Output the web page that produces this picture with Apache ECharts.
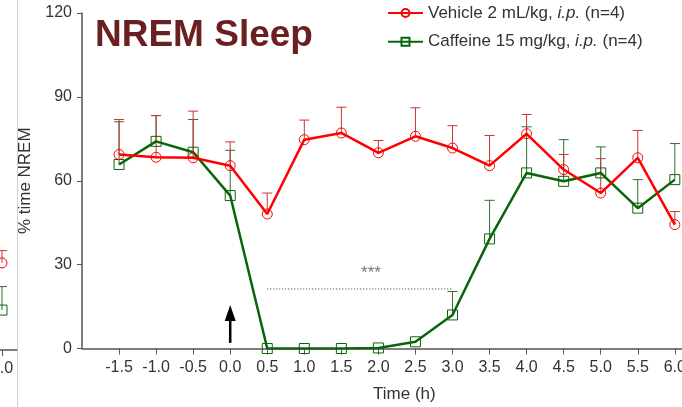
<!DOCTYPE html>
<html>
<head>
<meta charset="utf-8">
<script src="https://cdn.jsdelivr.net/npm/echarts@6/dist/echarts.min.js"></script>
<style>
html,body{margin:0;padding:0;background:#fff;}
#chart{width:682px;height:407px;}
</style>
</head>
<body>
<div id="chart"></div>
<script>
// ---- data ----
const time = [-1.5, -1.0, -0.5, 0.0, 0.5, 1.0, 1.5, 2.0, 2.5, 3.0, 3.5, 4.0, 4.5, 5.0, 5.5, 6.0];
const vehicleMean = [69.4, 68.4, 68.2, 65.4, 48.1, 74.7, 77.1, 70.0, 75.9, 71.7, 65.4, 76.8, 64.0, 55.6, 68.2, 44.3];
const vehicleErr  = [12.5, 14.9, 16.7, 8.5, 7.5, 7.0, 9.2, 4.4, 10.2, 8.0, 10.8, 6.9, 5.4, 12.3, 9.8, 4.7];
const caffeineMean = [65.8, 74.1, 70.2, 54.7, 0.0, 0.0, 0.0, 0.2, 2.4, 12.0, 39.2, 62.8, 59.8, 62.8, 50.2, 60.4];
const caffeineErr  = [15.3, 9.2, 11.7, 16.2, 0, 0, 0, 0, 0, 8.4, 13.8, 16.5, 14.9, 9.3, 10.2, 12.9];
const xTicks = [-1.5, -1.0, -0.5, 0.0, 0.5, 1.0, 1.5, 2.0, 2.5, 3.0, 3.5, 4.0, 4.5, 5.0, 5.5, 6.0];
const yTicks = [0, 30, 60, 90, 120];
const seriesNames = ['Vehicle 2 mL/kg, i.p. (n=4)', 'Caffeine 15 mg/kg, i.p. (n=4)'];
const titleText = 'NREM Sleep';
const xName = 'Time (h)';
const yName = '% time NREM';
// significance annotation
const sigStart = 0.5, sigEnd = 3.0, sigLevel = 21.3;
const sigLabelPos = [1.9, 27.0];
const sigLabel = '***';
// injection arrow (time, base value, tip value)
const arrowAt = [0.0, 2.0, 15.6];
// clipped neighbouring panel at left edge
const prevTime = [6.0];
const prevVehicle = [31.2];
const prevVehicleErr = [4.4];
const prevCaffeine = [14.3];
const prevCaffeineErr = [8.4];

// ---- styles ----
const RED = '#ff0000', RED_ERR = '#cc3333';
const GREEN = '#0a640a', GREEN_ERR = '#2f6f2f';
const FONT = 'Liberation Sans, Arial, sans-serif';
const AXIS = '#555';

function pairs(xs, ys) { return xs.map((x, i) => [x, ys[i]]); }
function triples(xs, ys, es) { return xs.map((x, i) => [x, ys[i], es[i]]); }

function errRenderer(color) {
  return function (params, api) {
    const x = api.value(0), m = api.value(1), e = api.value(2);
    if (!(e > 0)) return null;
    const p0 = api.coord([x, m]);
    const p1 = api.coord([x, m + e]);
    return {
      type: 'group',
      children: [
        { type: 'line', shape: { x1: p0[0], y1: p0[1], x2: p1[0], y2: p1[1] }, style: { stroke: color, lineWidth: 1 } },
        { type: 'line', shape: { x1: p1[0] - 5, y1: p1[1], x2: p1[0] + 5, y2: p1[1] }, style: { stroke: color, lineWidth: 1 } }
      ]
    };
  };
}

function arrowRenderer(params, api) {
  const x = api.value(0);
  const p0 = api.coord([x, api.value(1)]);
  const p1 = api.coord([x, api.value(2)]);
  return {
    type: 'group',
    children: [
      { type: 'line', shape: { x1: p0[0], y1: p0[1], x2: p1[0], y2: p1[1] + 12 }, style: { stroke: '#000', lineWidth: 2.5 } },
      { type: 'polygon', shape: { points: [[p1[0], p1[1]], [p1[0] - 5.5, p1[1] + 16], [p1[0] + 5.5, p1[1] + 16]] }, style: { fill: '#000' } }
    ]
  };
}

const chart = echarts.init(document.getElementById('chart'), null, { renderer: 'canvas' });

const option = {
  animation: false,
  backgroundColor: '#fff',
  textStyle: { fontFamily: FONT },
  title: {
    text: titleText,
    left: 95, top: 17, padding: 0,
    textStyle: { fontFamily: FONT, fontSize: 37, fontWeight: 'bold', color: '#6a2020' }
  },
  legend: {
    data: seriesNames,
    orient: 'vertical',
    left: 387, top: 3.5, padding: 0,
    itemWidth: 35, itemHeight: 10, itemGap: 9.7,
    formatter: name => name.replace('i.p.', '{i|i.p.}'),
    textStyle: {
      fontFamily: FONT, fontSize: 17, color: '#333', lineHeight: 19,
      rich: { i: { fontFamily: FONT, fontSize: 17, fontStyle: 'italic', color: '#333', lineHeight: 19 } }
    }
  },
  graphic: [
    { type: 'line', shape: { x1: 17.5, y1: 0, x2: 17.5, y2: 407 }, style: { stroke: '#d0d0d0', lineWidth: 1 }, z: 0 }
  ],
  grid: [
    { left: 82, width: 644.7, top: 13, height: 335.5, containLabel: false, outerBoundsMode: 'none' },
    { left: -590.8, width: 607.6, top: 15, height: 335, containLabel: false, outerBoundsMode: 'none' }
  ],
  xAxis: [
    {
      gridIndex: 0, type: 'value', min: -2, max: 6.7,
      name: xName, nameLocation: 'middle', nameGap: 37,
      nameTextStyle: { fontFamily: FONT, fontSize: 17, color: '#333' },
      axisLine: { show: true, onZero: false, lineStyle: { color: AXIS, width: 1.5 } },
      axisTick: { show: true, length: 6, customValues: xTicks, lineStyle: { color: AXIS } },
      axisLabel: { customValues: xTicks, formatter: v => v.toFixed(1), fontFamily: FONT, fontSize: 16, color: '#333', margin: 11 },
      splitLine: { show: false }
    },
    {
      gridIndex: 1, type: 'value', min: -2, max: 6.2,
      axisLine: { show: true, onZero: false, lineStyle: { color: AXIS, width: 1.5 } },
      axisTick: { show: true, length: 6, customValues: prevTime, lineStyle: { color: AXIS } },
      axisLabel: { customValues: prevTime, formatter: v => v.toFixed(1), fontFamily: FONT, fontSize: 16, color: '#333', margin: 11 },
      splitLine: { show: false }
    }
  ],
  yAxis: [
    {
      gridIndex: 0, type: 'value', min: 0, max: 120, interval: 30,
      name: yName, nameLocation: 'middle', nameGap: 48,
      nameTextStyle: { fontFamily: FONT, fontSize: 17, color: '#333' },
      axisLine: { show: true, onZero: false, lineStyle: { color: AXIS, width: 1.5 } },
      axisTick: { show: true, length: 5, lineStyle: { color: AXIS } },
      axisLabel: { fontFamily: FONT, fontSize: 16, color: '#333', margin: 10,
        formatter: v => (yTicks.indexOf(v) >= 0 ? String(v) : '') },
      splitLine: { show: false }
    },
    {
      gridIndex: 1, type: 'value', min: 0, max: 120, show: false
    }
  ],
  series: [
    {
      name: 'caffErr', type: 'custom', xAxisIndex: 0, yAxisIndex: 0, z: 2,
      renderItem: errRenderer(GREEN_ERR), encode: { x: 0, y: 1 },
      data: triples(time, caffeineMean, caffeineErr), silent: true
    },
    {
      name: 'vehErr', type: 'custom', xAxisIndex: 0, yAxisIndex: 0, z: 2,
      renderItem: errRenderer(RED_ERR), encode: { x: 0, y: 1 },
      data: triples(time, vehicleMean, vehicleErr), silent: true
    },
    {
      name: seriesNames[0], type: 'line', xAxisIndex: 0, yAxisIndex: 0, z: 4,
      data: pairs(time, vehicleMean),
      symbol: 'circle', symbolSize: 10,
      lineStyle: { color: RED, width: 2.5 },
      itemStyle: { color: 'rgba(255,255,255,0)', borderColor: RED, borderWidth: 1 }
    },
    {
      name: seriesNames[1], type: 'line', xAxisIndex: 0, yAxisIndex: 0, z: 3,
      data: pairs(time, caffeineMean),
      symbol: 'rect', symbolSize: 10,
      lineStyle: { color: GREEN, width: 2.5 },
      itemStyle: { color: 'rgba(255,255,255,0)', borderColor: GREEN, borderWidth: 1 }
    },
    {
      name: 'sigLine', type: 'line', xAxisIndex: 0, yAxisIndex: 0, z: 2,
      data: [[sigStart, sigLevel], [sigEnd, sigLevel]],
      symbol: 'none', silent: true,
      lineStyle: { color: '#333', width: 1, type: [1, 2] }
    },
    {
      name: 'sigText', type: 'scatter', xAxisIndex: 0, yAxisIndex: 0,
      data: [sigLabelPos], symbolSize: 1, itemStyle: { color: 'rgba(0,0,0,0)' }, silent: true,
      label: { show: true, position: 'inside', formatter: sigLabel, fontFamily: FONT, fontSize: 17, color: '#555' }
    },
    {
      name: 'arrow', type: 'custom', xAxisIndex: 0, yAxisIndex: 0, z: 5,
      renderItem: arrowRenderer, encode: { x: 0, y: 1 }, data: [arrowAt], silent: true
    },
    // clipped neighbouring panel
    {
      name: 'prevCaffErr', type: 'custom', xAxisIndex: 1, yAxisIndex: 1,
      renderItem: errRenderer(GREEN_ERR), encode: { x: 0, y: 1 },
      data: triples(prevTime, prevCaffeine, prevCaffeineErr), silent: true
    },
    {
      name: 'prevVehErr', type: 'custom', xAxisIndex: 1, yAxisIndex: 1,
      renderItem: errRenderer(RED_ERR), encode: { x: 0, y: 1 },
      data: triples(prevTime, prevVehicle, prevVehicleErr), silent: true
    },
    {
      name: 'prevVeh', type: 'line', xAxisIndex: 1, yAxisIndex: 1,
      data: pairs(prevTime, prevVehicle), symbol: 'circle', symbolSize: 10, silent: true,
      lineStyle: { color: RED, width: 2.5 },
      itemStyle: { color: 'rgba(255,255,255,0)', borderColor: RED, borderWidth: 1 }
    },
    {
      name: 'prevCaff', type: 'line', xAxisIndex: 1, yAxisIndex: 1,
      data: pairs(prevTime, prevCaffeine), symbol: 'rect', symbolSize: 10, silent: true,
      lineStyle: { color: GREEN, width: 2.5 },
      itemStyle: { color: 'rgba(255,255,255,0)', borderColor: GREEN, borderWidth: 1 }
    }
  ]
};
chart.setOption(option);
</script>
</body>
</html>
